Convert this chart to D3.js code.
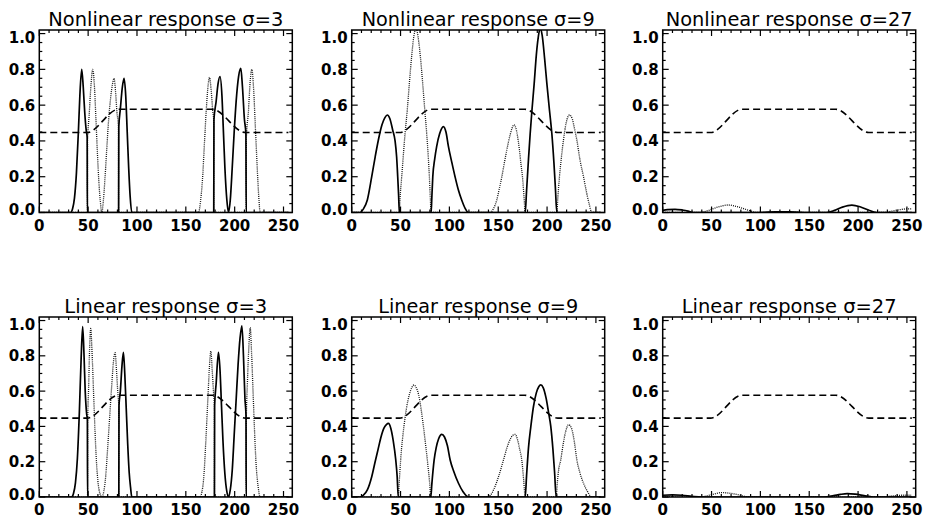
<!DOCTYPE html>
<html><head><meta charset="utf-8">
<script src="https://cdn.jsdelivr.net/npm/d3@7/dist/d3.min.js"></script>
<style>
html,body{margin:0;padding:0;background:#fff;}
svg{display:block;}
</style></head>
<body>
<svg id="chart" width="929" height="522"></svg>
<script>
// ---------- data ----------
const xTicks = [0, 50, 100, 150, 200, 250];
const yTicks = [0.0, 0.2, 0.4, 0.6, 0.8, 1.0];
const titles = ["Nonlinear response σ=3", "Nonlinear response σ=9", "Nonlinear response σ=27",
                "Linear response σ=3", "Linear response σ=9", "Linear response σ=27"];

// input luminance profile (dashed), identical in every panel
const profile = [[0,0.447],[49,0.447],[81,0.577],[177,0.577],[211,0.447],[255,0.447]];

// Nonlinear sigma=3
const nl3Solid = [[0,0],[32,0],[34,0.02],[36,0.08],[38,0.22],[40,0.45],[41.5,0.65],[43.4,0.80],[45,0.70],[46.5,0.56],[48,0.46],[49,0.42],[49.2,0],
  [81.2,0],[81.4,0.48],[83,0.58],[85,0.70],[86.8,0.75],[88.5,0.65],[90,0.45],[91.5,0.25],[93,0.09],[94.7,0],
  [178.6,0],[178.8,0.52],[181,0.62],[183,0.72],[185,0.76],[187,0.65],[188.5,0.45],[190,0.25],[192,0.07],[193.7,0],
  [195.5,0.07],[197.5,0.25],[199.5,0.45],[201.5,0.62],[204,0.76],[206.3,0.805],[208,0.70],[210,0.52],[211.5,0.44],[211.8,0],[255,0]];
const nl3Dot = [[0,0],[49.2,0],[49.4,0.40],[51,0.54],[53,0.72],[54.7,0.80],[56.5,0.70],[58,0.52],[59.5,0.33],[61,0.17],[62.5,0.06],[64,0],
  [65.5,0.06],[67,0.17],[69,0.35],[71,0.52],[73,0.64],[75,0.72],[76.5,0.75],[78,0.68],[79.5,0.56],[81,0.48],[81.2,0],
  [163,0],[165,0.06],[167,0.18],[169,0.38],[171,0.58],[173,0.72],[174.2,0.755],[176,0.68],[177.5,0.57],[178.5,0.52],[178.6,0],
  [211.8,0],[212,0.42],[214,0.56],[216,0.74],[217.6,0.80],[219.5,0.68],[221,0.50],[222.5,0.32],[224,0.15],[225,0.06],[226,0],[255,0]];

// Nonlinear sigma=9
const nl9Solid = [[0,0],[8.5,0],[12,0.02],[16,0.07],[20.5,0.2],[24,0.31],[27.3,0.405],[31,0.49],[34,0.53],[36.5,0.545],[39,0.525],[42,0.46],[44.4,0.40],[46,0.31],[47.1,0.2],[48,0.1],[48.8,0],
  [81.3,0],[82,0.08],[83,0.2],[85,0.30],[87,0.37],[90,0.44],[93.9,0.48],[96.5,0.45],[99,0.37],[102.5,0.28],[105.8,0.2],[109,0.13],[112.6,0.07],[116,0.025],[119.5,0],
  [177.6,0],[179,0.12],[181,0.30],[182.7,0.44],[184.5,0.57],[186.8,0.72],[189,0.88],[191,0.98],[192.9,1.03],[195,0.99],[197.5,0.86],[199.8,0.72],[202.5,0.57],[204.9,0.44],[207,0.28],[208.5,0.14],[210,0],[255,0]];
const nl9Dot = [[0,0],[48.8,0],[49.5,0.08],[51.2,0.2],[54.6,0.44],[57,0.58],[59,0.72],[61.5,0.88],[63.5,0.98],[65.9,1.03],[68,0.98],[70.5,0.86],[72.7,0.72],[75,0.56],[76.8,0.44],[78.5,0.3],[79.5,0.2],[80.5,0.08],[81.3,0],
  [141.7,0],[145,0.02],[148.5,0.07],[151,0.13],[153.7,0.2],[156,0.27],[158.8,0.35],[162,0.43],[166.3,0.49],[169,0.45],[171.7,0.35],[173.5,0.26],[174.8,0.2],[176.5,0.08],[177.6,0],
  [210,0],[211,0.08],[212.7,0.2],[214.5,0.3],[216.8,0.405],[219.5,0.5],[223,0.545],[226,0.52],[228,0.47],[230.5,0.405],[233.5,0.3],[237.3,0.2],[240.5,0.11],[243,0.05],[245.9,0],[255,0]];

// Nonlinear sigma=27
const nl27Solid = [[0,0.012],[5,0.016],[12.6,0.018],[20,0.014],[26,0.008],[31.4,0],[100,0],[115,0.004],[130,0.003],[145,0],
  [168,0],[176,0.012],[184,0.03],[193.6,0.041],[202,0.032],[210,0.015],[219,0],[255,0]];
const nl27Dot = [[0,0],[38,0],[46,0.01],[55,0.028],[67.2,0.042],[78,0.03],[88,0.012],[96.3,0],[226,0],[235,0.008],[243,0.016],[250,0.02],[255,0.02]];

// Linear sigma=3
const l3Solid = [[0,0],[33,0],[35,0.02],[37,0.08],[39,0.22],[41,0.48],[42.8,0.78],[44.4,0.965],[45.8,0.80],[47,0.60],[48.5,0.47],[49.2,0.44],[49.4,0],
  [81.4,0],[81.6,0.52],[83,0.60],[84.6,0.74],[86.1,0.82],[87.5,0.70],[89,0.50],[90.5,0.30],[92,0.14],[93.5,0.05],[94.7,0],
  [179.3,0],[179.5,0.52],[181,0.64],[183.4,0.82],[185,0.72],[186.5,0.52],[188,0.32],[190,0.13],[192,0.03],[193.7,0],
  [195.5,0.04],[197.5,0.15],[199.5,0.35],[201.5,0.55],[203.5,0.75],[205.5,0.90],[207.4,0.97],[209,0.80],[210.5,0.56],[211.6,0.46],[211.8,0],[255,0]];
const l3Dot = [[0,0],[49.4,0],[49.6,0.44],[50.5,0.62],[51.5,0.84],[52.6,0.955],[54,0.82],[55.5,0.6],[57,0.38],[58.5,0.2],[60,0.09],[62,0.02],[64,0],
  [66,0.03],[68,0.12],[70,0.28],[72,0.45],[74,0.62],[75.8,0.76],[77.6,0.818],[79,0.72],[80.5,0.58],[81.3,0.52],[81.4,0],
  [164.7,0],[166.5,0.03],[168.5,0.12],[170.5,0.32],[172.5,0.55],[174,0.72],[175.6,0.827],[177,0.72],[178.5,0.58],[179.2,0.52],[179.3,0],
  [211.8,0],[212,0.46],[213,0.64],[214.5,0.85],[215.9,0.96],[217.3,0.82],[218.8,0.6],[220.3,0.38],[222,0.18],[224,0.06],[226,0],[255,0]];

// Linear sigma=9
const l9Solid = [[0,0],[8.5,0],[12,0.01],[16,0.04],[20.5,0.115],[24,0.2],[27,0.27],[30,0.34],[33,0.39],[35.5,0.41],[37.6,0.417],[40,0.39],[42.5,0.32],[45.1,0.21],[46.5,0.12],[47.7,0],
  [81,0],[82,0.07],[84.4,0.21],[86.5,0.28],[89,0.33],[92.2,0.355],[95,0.34],[98,0.29],[100.8,0.21],[104.5,0.145],[109.3,0.078],[114,0.03],[119.5,0],
  [177.6,0],[179,0.12],[181,0.28],[183.4,0.40],[186,0.51],[189,0.59],[191.5,0.625],[193.6,0.635],[196,0.62],[199,0.56],[201.5,0.48],[203.8,0.40],[206,0.27],[207.7,0.14],[209.3,0],[255,0]];
const l9Dot = [[0,0],[47.7,0],[48.5,0.07],[50.1,0.21],[53.5,0.40],[56,0.5],[59,0.58],[61.5,0.62],[63.8,0.635],[66,0.62],[68.5,0.58],[71,0.5],[73.4,0.40],[76,0.28],[78,0.18],[79.8,0.08],[81,0],
  [138.3,0],[142,0.01],[146,0.05],[150.3,0.115],[155.4,0.21],[159,0.28],[162.5,0.33],[165,0.35],[167.3,0.355],[170,0.32],[172,0.27],[174.1,0.21],[176,0.1],[177.6,0],
  [209.3,0],[210.5,0.08],[212,0.16],[214,0.21],[216.5,0.3],[219,0.37],[222,0.41],[225,0.39],[228,0.31],[230.5,0.21],[233.5,0.14],[237.3,0.078],[241,0.035],[245.9,0],[255,0]];

// Linear sigma=27
const l27Solid = [[0,0.01],[10,0.012],[20,0.01],[30,0.004],[40,0],[165,0],[175,0.008],[182,0.015],[189,0.019],[197,0.016],[206,0.008],[215,0],[255,0]];
const l27Dot = [[0,0],[38,0],[48,0.01],[55,0.02],[60,0.025],[68,0.022],[78,0.012],[88,0],[225,0],[235,0.006],[245,0.01],[255,0.01]];

const solidSeries = [nl3Solid, nl9Solid, nl27Solid, l3Solid, l9Solid, l27Solid];
const dotSeries = [nl3Dot, nl9Dot, nl27Dot, l3Dot, l9Dot, l27Dot];

// ---------- layout ----------
const colLeft = [39.3, 351.7, 662.7];
const plotW = 253;
const rowTop = [30, 317];
const rowBottom = [212.5, 497];
const xDomain = [0, 259];
const yDomain = [0, 1.02];

const svg = d3.select("#chart");
const defs = svg.append("defs");

titles.forEach((title, i) => {
  const col = i % 3, row = Math.floor(i / 3);
  const x0 = colLeft[col], x1 = x0 + plotW;
  const y0 = rowTop[row], y1 = rowBottom[row];
  const x = d3.scaleLinear().domain(xDomain).range([x0, x1]);
  const y = d3.scaleLinear().domain(yDomain).range([y1, y0]);

  const g = svg.append("g");
  const clipId = "clip" + i;
  defs.append("clipPath").attr("id", clipId).append("rect")
    .attr("x", x0).attr("y", y0).attr("width", x1 - x0).attr("height", y1 - y0);

  const line = d3.line().x(d => x(d[0])).y(d => y(d[1])).curve(d3.curveMonotoneX);
  const lines = g.append("g").attr("clip-path", `url(#${clipId})`);

  lines.append("path").datum(profile).attr("d", line)
    .attr("fill", "none").attr("stroke", "#000").attr("stroke-width", 1.6)
    .attr("stroke-dasharray", "7,4");
  lines.append("path").datum(dotSeries[i]).attr("d", line)
    .attr("fill", "none").attr("stroke", "#111").attr("stroke-width", 1.3)
    .attr("stroke-dasharray", "1,1.1");
  lines.append("path").datum(solidSeries[i]).attr("d", line)
    .attr("fill", "none").attr("stroke", "#000").attr("stroke-width", 1.7);

  // frame
  g.append("rect").attr("x", x0).attr("y", y0).attr("width", x1 - x0).attr("height", y1 - y0)
    .attr("fill", "none").attr("stroke", "#000").attr("stroke-width", 1.5);

  // ticks (inward, on all four sides)
  const majL = 6, minL = 3;
  const xMinor = d3.range(0, 251, 10).filter(v => v % 50 !== 0);
  const yMinor = d3.range(0, 1.0001, 0.05).filter(v => Math.abs(v * 5 - Math.round(v * 5)) > 1e-6);
  const tk = g.append("g").attr("stroke", "#000").attr("stroke-width", 1.2);
  xTicks.forEach(v => {
    tk.append("line").attr("x1", x(v)).attr("x2", x(v)).attr("y1", y1).attr("y2", y1 - majL);
    tk.append("line").attr("x1", x(v)).attr("x2", x(v)).attr("y1", y0).attr("y2", y0 + majL);
  });
  xMinor.forEach(v => {
    tk.append("line").attr("x1", x(v)).attr("x2", x(v)).attr("y1", y1).attr("y2", y1 - minL);
    tk.append("line").attr("x1", x(v)).attr("x2", x(v)).attr("y1", y0).attr("y2", y0 + minL);
  });
  yTicks.forEach(v => {
    tk.append("line").attr("x1", x0).attr("x2", x0 + majL).attr("y1", y(v)).attr("y2", y(v));
    tk.append("line").attr("x1", x1).attr("x2", x1 - majL).attr("y1", y(v)).attr("y2", y(v));
  });
  yMinor.forEach(v => {
    tk.append("line").attr("x1", x0).attr("x2", x0 + minL).attr("y1", y(v)).attr("y2", y(v));
    tk.append("line").attr("x1", x1).attr("x2", x1 - minL).attr("y1", y(v)).attr("y2", y(v));
  });

  // tick labels
  const lab = g.append("g").attr("font-family", "DejaVu Sans, sans-serif")
    .attr("font-size", 15).attr("font-weight", "bold").attr("fill", "#000");
  xTicks.forEach(v => {
    lab.append("text").attr("x", x(v)).attr("y", y1 + 18)
      .attr("text-anchor", "middle").text(d3.format("d")(v));
  });
  yTicks.forEach(v => {
    const cy = Math.max(y0 + 8, Math.min(y1 - 2.5, y(v)));
    lab.append("text").attr("x", x0 - 4).attr("y", cy).attr("dy", "0.36em")
      .attr("text-anchor", "end").text(d3.format(".1f")(v));
  });

  // title
  const tw = [235, 233, 247, 203, 200, 215][i];
  g.append("text").attr("x", (x0 + x1) / 2).attr("y", y0 - 4)
    .attr("text-anchor", "middle").attr("font-family", "DejaVu Sans, sans-serif")
    .attr("font-size", 19).attr("fill", "#000")
    .attr("textLength", tw).attr("lengthAdjust", "spacingAndGlyphs")
    .text(title);
});
</script>
</body></html>
